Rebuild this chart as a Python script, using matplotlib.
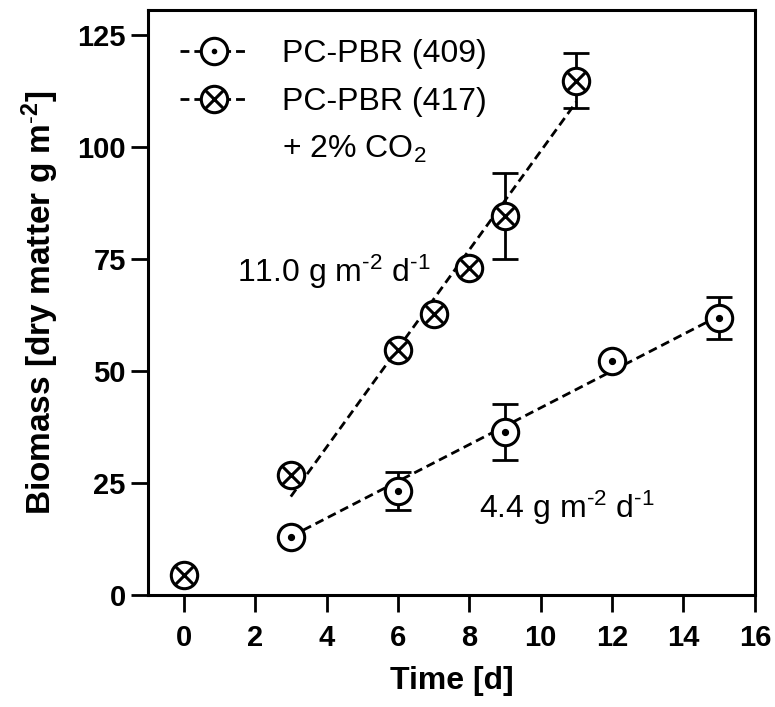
import matplotlib

matplotlib.use('Agg')
import matplotlib.pyplot as plt
from matplotlib.lines import Line2D
import numpy as np

plt.rcParams['font.family'] = ['Liberation Sans', 'DejaVu Sans']
plt.rcParams['mathtext.fontset'] = 'custom'
plt.rcParams['mathtext.rm'] = 'Liberation Sans'
plt.rcParams['mathtext.it'] = 'Liberation Sans'
plt.rcParams['mathtext.bf'] = 'Liberation Sans:bold'

# PC-PBR (409)
t_409 = [3, 6, 9, 12, 15]
b_409 = [13.0, 23.2, 36.4, 52.2, 61.8]
err_409 = [0, 4.2, 6.2, 0, 4.7]
fit_409 = (4.1, 0.8)          # slope, intercept
fit_409_range = (3, 15)

# PC-PBR (417) + 2% CO2
t_417 = [0, 3, 6, 7, 8, 9, 11]
b_417 = [4.5, 26.8, 54.7, 62.8, 73.0, 84.5, 114.7]
err_417 = [0, 0, 0, 0, 0, 9.6, 6.1]
fit_417 = (11.0, -11.0)
fit_417_range = (3, 11)

xticks = list(range(0, 17, 2))
yticks = [0, 25, 50, 75, 100, 125]

fig = plt.figure(figsize=(7.75, 7.07), dpi=100)
ax = fig.add_axes([0.191, 0.158, 0.783, 0.828])

MS = 19
MEW = 2.2
LW = 2.0
dash = (3.2, 1.8)


def fit_line(fit, rng):
    xs = np.array(rng, dtype=float)
    ax.plot(xs, fit[0] * xs + fit[1], color='black', lw=LW, ls=(0, dash), zorder=1)


fit_line(fit_409, fit_409_range)
fit_line(fit_417, fit_417_range)


def draw_series(t, b, err, inner, inner_size):
    t = np.array(t)
    b = np.array(b)
    err = np.array(err)
    m = err > 0
    ax.errorbar(t[m], b[m], yerr=err[m], fmt='none', ecolor='black',
                elinewidth=2.0, capsize=9.5, capthick=2.0, zorder=2)
    ax.plot(t, b, ls='none', marker='o', ms=MS, mfc='white', mec='black',
            mew=MEW, zorder=3)
    ax.plot(t, b, ls='none', marker=inner, ms=inner_size, mfc='black',
            mec='black', mew=MEW, zorder=4)


draw_series(t_409, b_409, err_409, '.', 6)
draw_series(t_417, b_417, err_417, 'x', 13.5)

ax.text(1.48, 69.9, r'11.0 g m$^{\text{-}2}$ d$^{\text{-}1}$', fontsize=23,
        ha='left', va='baseline')
ax.text(8.28, 17.2, r'4.4 g m$^{\text{-}2}$ d$^{\text{-}1}$', fontsize=23,
        ha='left', va='baseline')

ax.set_xlim(-1, 16)
ax.set_ylim(0, 130.5)
ax.set_xticks(xticks)
ax.set_yticks(yticks)
ax.tick_params(direction='out', length=12, width=2.0, labelsize=21)
ax.tick_params(axis='x', pad=9)
ax.tick_params(axis='y', pad=4)
for lab in ax.get_xticklabels() + ax.get_yticklabels():
    lab.set_fontweight('bold')
for sp in ax.spines.values():
    sp.set_linewidth(2.2)

ax.set_xlabel('Time [d]', fontsize=23, fontweight='bold', labelpad=10)
ax.set_ylabel(r'Biomass [dry matter g m$^{\text{-}\mathbf{2}}$]', fontsize=24,
              fontweight='bold', labelpad=12)

h1 = (Line2D([], [], color='black', lw=LW, ls=(0, dash), marker='o', ms=MS,
             mfc='white', mec='black', mew=MEW),
      Line2D([], [], ls='none', marker='.', ms=6, color='black'))
h2 = (Line2D([], [], color='black', lw=LW, ls=(0, dash), marker='o', ms=MS,
             mfc='white', mec='black', mew=MEW),
      Line2D([], [], ls='none', marker='x', ms=13.5, color='black', mew=MEW))
h3 = Line2D([], [], ls='none', marker='none')

leg = ax.legend([h1, h2, h3], ['PC-PBR (409)', 'PC-PBR (417)', '+ 2% CO$_2$'],
                loc='upper left', bbox_to_anchor=(0.053, 0.950), frameon=False,
                fontsize=23, borderpad=0, borderaxespad=0, handlelength=2.1,
                handletextpad=1.1, labelspacing=0.55, numpoints=1)

fig.savefig('out.png', dpi=100)
